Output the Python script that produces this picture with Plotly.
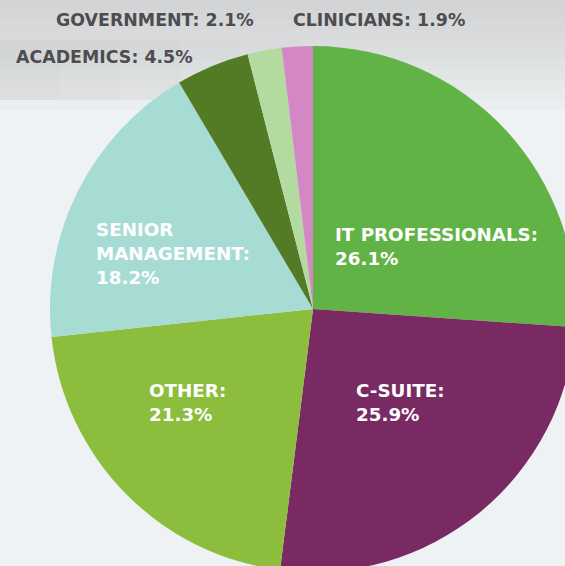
import plotly.graph_objects as go

# ---- data ----
categories = ["IT PROFESSIONALS", "C-SUITE", "OTHER", "SENIOR MANAGEMENT",
              "ACADEMICS", "GOVERNMENT", "CLINICIANS"]
values = [26.1, 25.9, 21.3, 18.2, 4.5, 2.1, 1.9]
colors = ["#62b346", "#792a63", "#8cbd3c", "#a7dcd5", "#537b25", "#b3dba0", "#d487c5"]

# ---- layout helpers (pixels on a W x H figure) ----
W, H = 580, 580
cx, cy, r = 313, 309, 263


def px(x):
    return x / W


def py(y):
    return 1 - y / H


fig = go.Figure(go.Pie(
    labels=categories,
    values=values,
    marker=dict(colors=colors, line=dict(width=0)),
    sort=False,
    direction="clockwise",
    rotation=0,
    textinfo="none",
    hoverinfo="label+percent",
    showlegend=False,
    domain=dict(x=[px(cx - r), px(cx + r)], y=[py(cy + r), py(cy - r)]),
))

FONT = "DejaVu Sans"
inside_pos = {  # label: (left px, top px)
    "IT PROFESSIONALS": (333, 222),
    "C-SUITE": (354, 378),
    "OTHER": (147, 378),
    "SENIOR MANAGEMENT": (94, 217),
}
outside_pos = {
    "GOVERNMENT": (54, 8),
    "CLINICIANS": (291, 8),
    "ACADEMICS": (14, 45),
}

annotations = []
for cat, val in zip(categories, values):
    if cat in inside_pos:
        x, y = inside_pos[cat]
        name = cat.replace("SENIOR ", "SENIOR<br>")
        annotations.append(dict(
            x=px(x), y=py(y), xref="paper", yref="paper",
            xanchor="left", yanchor="top", align="left", showarrow=False,
            text=f"{name}:<br>{val}%",
            font=dict(family=FONT, size=18.3, color="#ffffff", weight="bold"),
        ))
    else:
        x, y = outside_pos[cat]
        annotations.append(dict(
            x=px(x), y=py(y), xref="paper", yref="paper",
            xanchor="left", yanchor="top", align="left", showarrow=False,
            text=f"{cat}: {val}%",
            font=dict(family=FONT, size=17.4, color="#4d4d4f", weight="bold"),
        ))

# soft background gradient at the top (decorative, stacked translucent bands)
shapes = []
for k in range(1, 12):
    shapes.append(dict(
        type="rect", xref="paper", yref="paper", x0=0, x1=1,
        y0=py(10 * k), y1=1,
        fillcolor="#b9bac1", opacity=0.06, line=dict(width=0), layer="below"))
for k in range(1, 6):
    shapes.append(dict(
        type="rect", xref="paper", yref="paper", x0=0, x1=px(60 * k),
        y0=py(100), y1=py(40),
        fillcolor="#c4c5cb", opacity=0.07, line=dict(width=0), layer="below"))

fig.update_layout(
    width=W, height=H,
    margin=dict(l=0, r=0, t=0, b=0),
    paper_bgcolor="#eff2f4",
    annotations=annotations,
    shapes=shapes,
)

fig.write_html(
    "out.html",
    config={"displayModeBar": False},
    post_script="document.body.style.margin='0';document.body.style.overflow='hidden';",
)
